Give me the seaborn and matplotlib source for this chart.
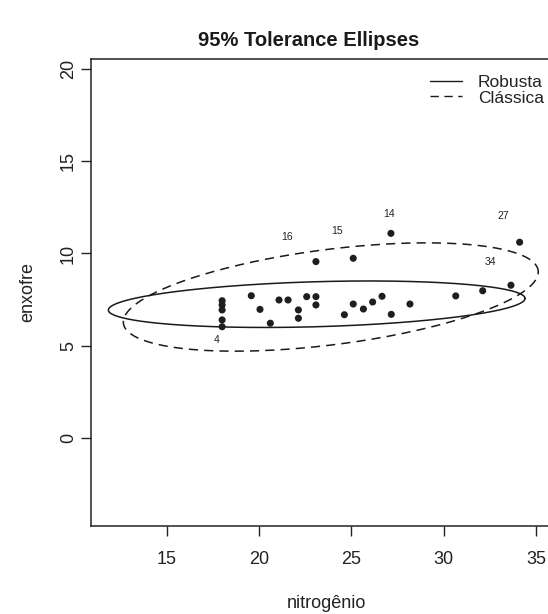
import numpy as np
import pandas as pd
import matplotlib
matplotlib.use("Agg")
import matplotlib.pyplot as plt
import seaborn as sns

# ---- data ----
nitrogenio = [18, 18, 18, 18, 18, 19.58, 20.05, 20.61, 21.08, 21.57, 22.13, 22.13,
              22.58, 23.08, 23.08, 23.08, 24.62, 25.10, 25.10, 25.65, 26.15, 26.66,
              27.16, 27.14, 28.17, 30.65, 32.11, 33.64, 34.11]
enxofre = [7.44, 7.21, 6.94, 6.40, 6.03, 7.71, 6.97, 6.22, 7.48, 7.48, 6.94, 6.49,
           7.66, 7.66, 7.21, 9.56, 6.68, 7.26, 9.74, 6.99, 7.37, 7.68,
           6.70, 11.09, 7.26, 7.70, 7.98, 8.28, 10.61]

label_text = ["16", "15", "14", "27", "34", "4"]
label_x = [21.5, 24.2, 27.02, 33.22, 32.54, 17.71]
label_y = [10.91, 11.24, 12.12, 12.03, 9.54, 5.31]

# ellipse parameters (center, covariance) for the 95% tolerance ellipses
robust_center = [23.12, 7.25]
robust_cov = [[21.24, 0.593], [0.593, 0.265]]
classic_center = [23.885, 7.64]
classic_cov = [[21.07, 2.541], [2.541, 1.438]]
chi2_95 = 5.991

x_ticks = [15, 20, 25, 30, 35]
y_ticks = [0, 5, 10, 15, 20]


def ellipse_points(center, cov, c2, n=361):
    t = np.linspace(0, 2 * np.pi, n)
    L = np.linalg.cholesky(np.array(cov))
    circ = np.vstack([np.cos(t), np.sin(t)])
    pts = np.array(center)[:, None] + np.sqrt(c2) * L @ circ
    return pts[0], pts[1]


sns.set_theme(style="white")
plt.rcParams['font.family'] = ['Liberation Sans', 'DejaVu Sans']

fig = plt.figure(figsize=(5.48, 6.14), dpi=100)
ax = fig.add_axes([91 / 548, 88 / 614, 470 / 548, 467 / 614])

df = pd.DataFrame({"nitrogenio": nitrogenio, "enxofre": enxofre})
sns.scatterplot(data=df, x="nitrogenio", y="enxofre", ax=ax, color="#1e1e1e",
                s=26, edgecolor="none", zorder=3)

rx, ry = ellipse_points(robust_center, robust_cov, chi2_95)
cx, cy = ellipse_points(classic_center, classic_cov, chi2_95)
ell = pd.DataFrame({"x": rx, "y": ry})
ell2 = pd.DataFrame({"x": cx, "y": cy})
sns.lineplot(data=ell, x="x", y="y", sort=False, estimator=None, ax=ax,
             color="#1a1a1a", lw=1.1, label="Robusta")
sns.lineplot(data=ell2, x="x", y="y", sort=False, estimator=None, ax=ax,
             color="#1a1a1a", lw=1.1, label="Clássica")
ax.lines[-1].set_linestyle((0, (6, 4)))

for t, lx, ly in zip(label_text, label_x, label_y):
    ax.text(lx, ly, t, fontsize=7.5, ha="center", va="center", color="#222222")

ax.set_xlim(10.9, 36.35)
ax.set_ylim(-4.77, 20.54)
ax.set_xticks(x_ticks)
ax.set_yticks(y_ticks)
ax.tick_params(axis="both", direction="out", length=7, width=1, color="#222222",
               labelsize=13, labelcolor="#222222", bottom=True, left=True,
               top=False, right=False)
ax.tick_params(axis="x", pad=11)
ax.tick_params(axis="y", pad=3)
for lab in ax.get_yticklabels():
    lab.set_rotation(90)
    lab.set_va("center")

for sp in ax.spines.values():
    sp.set_color("#222222")
    sp.set_linewidth(1.1)

ax.set_xlabel("nitrogênio", fontsize=13, color="#222222")
ax.set_ylabel("enxofre", fontsize=13, color="#222222")
ax.xaxis.set_label_coords(0.5, -0.165)
ax.xaxis.label.set_va("center")
ax.yaxis.set_label_coords(-0.134, 0.5)
ax.yaxis.label.set_va("center")

leg = ax.legend(loc="upper right", frameon=False, fontsize=12.5, handlelength=1.85,
                handletextpad=0.9, labelspacing=0.0, borderaxespad=0.0,
                borderpad=0.3)
leg.set_bbox_to_anchor((549 / 548, 1 - 70 / 614), transform=fig.transFigure)
for line in leg.get_lines():
    line.set_linewidth(1.0)
for txt in leg.get_texts():
    txt.set_color("#222222")

fig.text(309 / 548, 1 - 40 / 614, "95% Tolerance Ellipses", fontsize=14.5,
         fontweight="bold", ha="center", va="center", color="#1a1a1a")

fig.savefig("out.png", dpi=100)
